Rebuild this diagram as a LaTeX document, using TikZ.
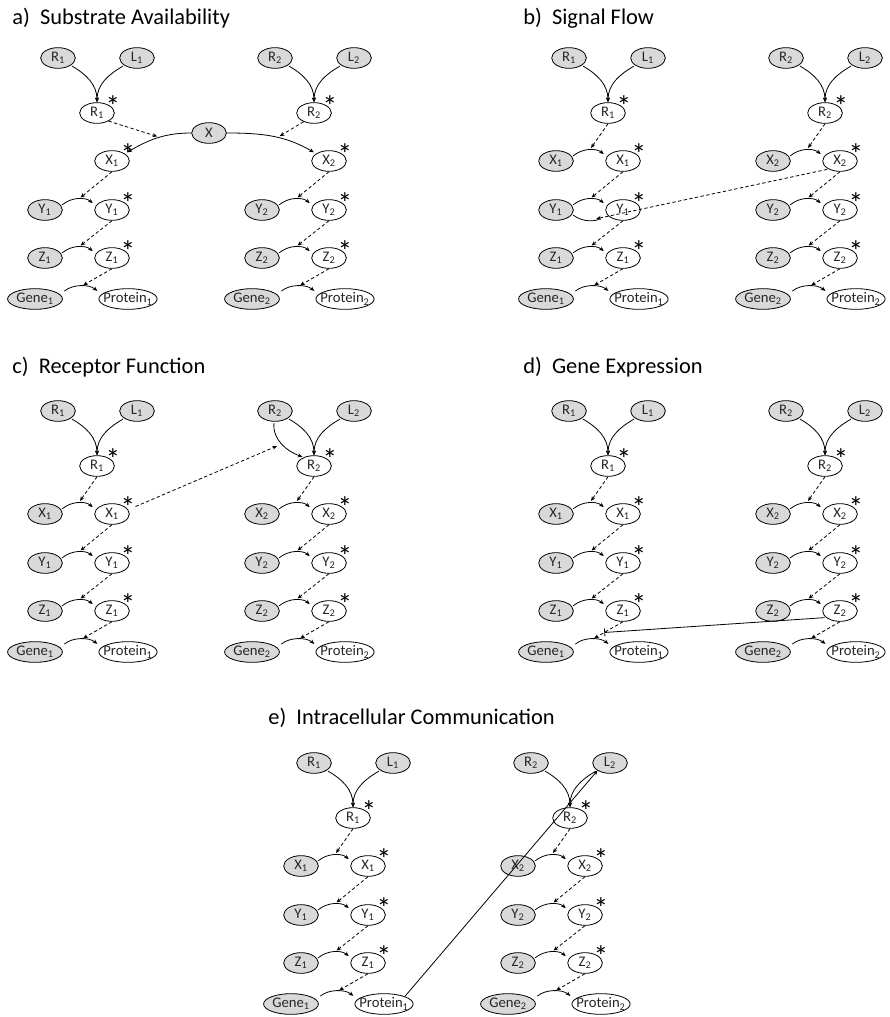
\documentclass[tikz,border=0pt]{standalone}
\usepackage{fontspec}
\setmainfont{Carlito}
\usetikzlibrary{arrows.meta,shapes.geometric}
\definecolor{cellgray}{RGB}{217,217,217}

% one signalling column: receptor, cascade, gene
\newcommand{\sigcol}[4]{%
  \begin{scope}[shift={(#3,#4)}]
    \node[pas]  (#1R)  at (58,58)   {R\textsubscript{#2}};
    \node[pas]  (#1L)  at (137,58)  {L\textsubscript{#2}};
    \node[act]  (#1Rs) at (97,113)  {R\textsubscript{#2}};
    \node[act]  (#1Xs) at (112,161) {X\textsubscript{#2}};
    \node[pas]  (#1Y)  at (45,210)  {Y\textsubscript{#2}};
    \node[act]  (#1Ys) at (112,210) {Y\textsubscript{#2}};
    \node[pas]  (#1Z)  at (45,258)  {Z\textsubscript{#2}};
    \node[act]  (#1Zs) at (112,258) {Z\textsubscript{#2}};
    \node[gene] (#1G)  at (35,299)  {Gene\textsubscript{#2}};
    \node[prot] (#1P)  at (128,299) {Protein\textsubscript{#2}};
  \end{scope}
  \draw[->,shorten <=1pt] (#1R) to[out=-30,in=90] (#1Rs);
  \draw[->,shorten <=1pt] (#1L) to[out=-150,in=90] (#1Rs);
  \draw[->,shorten <=1pt,shorten >=3pt] (#1Y.15) to[bend left=40] node[coordinate,pos=.5] (#1ym) {} (#1Ys.165);
  \draw[->,shorten <=1pt,shorten >=3pt] (#1Z.15) to[bend left=40] node[coordinate,pos=.5] (#1zm) {} (#1Zs.165);
  \draw[->,shorten <=4pt,shorten >=4pt] (#1G.10) to[bend left=40] node[coordinate,pos=.5] (#1gm) {} (#1P.170);
  \draw[dsh,shorten >=2pt] (#1Xs.south) -- (#1ym);
  \draw[dsh,shorten >=2pt] (#1Ys.south) -- (#1zm);
  \draw[dsh,shorten >=2pt] (#1Zs.south) -- node[coordinate,pos=.6] (#1zd) {} (#1gm);}

% inactive X of a column
\newcommand{\sigx}[4]{%
  \begin{scope}[shift={(#3,#4)}]
    \node[pas] (#1X) at (45,161) {X\textsubscript{#2}};
  \end{scope}
  \draw[->,shorten <=1pt,shorten >=3pt] (#1X.15) to[bend left=40] node[coordinate,pos=.5] (#1xm) {} (#1Xs.165);
  \draw[dsh,shorten >=2pt] (#1Rs.south) -- (#1xm);}

\begin{document}
\begin{tikzpicture}[x=0.75pt, y=-0.75pt, line width=0.6pt,
  >={Stealth[length=3.5pt,width=3pt]},
  cell/.style={ellipse, draw, line width=0.6pt, inner xsep=0.5pt, inner ysep=0pt, minimum width=26pt, minimum height=15.5pt, text=black!85, font=\fontsize{11}{12}\selectfont},
  pas/.style={cell, fill=cellgray},
  act/.style={cell, fill=white, label={[astk]center:*}},
  prot/.style={cell, fill=white, inner xsep=-3pt},
  gene/.style={pas, minimum width=40pt},
  astk/.style={font=\fontsize{22}{22}\selectfont, inner sep=0pt, xshift=12pt, yshift=5pt},
  dsh/.style={->, dash pattern=on 2.5pt off 1.8pt},
  ttl/.style={anchor=west, inner sep=0pt, font=\fontsize{16.8}{19}\selectfont}]
\useasboundingbox (0,0) rectangle (889,1017);

% a) substrate availability
\node[ttl] (ta) at (12,18) {a)\ \ Substrate Availability};
\sigcol{a1}{1}{0}{0}
\sigcol{a2}{2}{217}{0}
\node[pas] (aX) at (209,133) {X};
\draw[->,shorten >=2pt] (aX) to[out=180,in=30] node[coordinate,pos=.45] (axm1) {} (a1Xs);
\draw[->,shorten >=2pt] (aX) to[out=0,in=150] node[coordinate,pos=.55] (axm2) {} (a2Xs);
\draw[dsh,shorten >=2pt] (a1Rs.-35) -- (axm1);
\draw[dsh,shorten >=2pt] (a2Rs.-140) -- (axm2);

% b) signal flow
\node[ttl] (tb) at (523,18) {b)\ \ Signal Flow};
\sigcol{b1}{1}{511}{0}
\sigx{b1}{1}{511}{0}
\sigcol{b2}{2}{728}{0}
\sigx{b2}{2}{728}{0}
\draw[shorten <=1pt,shorten >=6pt] (b1Y.-15) to[bend right=40] node[coordinate,pos=.7] (bylo) {} (b1Ys.-170);
\draw[dsh,shorten <=1pt] (b2Xs.-145) -- (bylo);

% c) receptor function
\node[ttl] (tc) at (12,367) {c)\ \ Receptor Function};
\sigcol{c1}{1}{0}{353}
\sigx{c1}{1}{0}{353}
\sigcol{c2}{2}{217}{353}
\sigx{c2}{2}{217}{353}
\draw[->,shorten <=1pt,shorten >=1pt] (c2R) to[out=-95,in=160] node[coordinate,pos=.5] (crm) {} (c2Rs.140);
\draw[dsh,shorten <=6pt,shorten >=4pt] (c1Xs.15) -- (crm);

% d) gene expression
\node[ttl] (td) at (523,367) {d)\ \ Gene Expression};
\sigcol{d1}{1}{511}{353}
\sigx{d1}{1}{511}{353}
\sigcol{d2}{2}{728}{353}
\sigx{d2}{2}{728}{353}
\draw[-{Bar[width=6pt]},shorten <=1pt] (d2Zs.-155) -- (d1zd);

% e) intracellular communication
\node[ttl] (te) at (268,718) {e)\ \ Intracellular Communication};
\sigcol{e1}{1}{256}{705}
\sigx{e1}{1}{256}{705}
\sigcol{e2}{2}{473}{705}
\sigx{e2}{2}{473}{705}
\draw[->] (e1P.north east) -- (e2L.south west);
\end{tikzpicture}
\end{document}
